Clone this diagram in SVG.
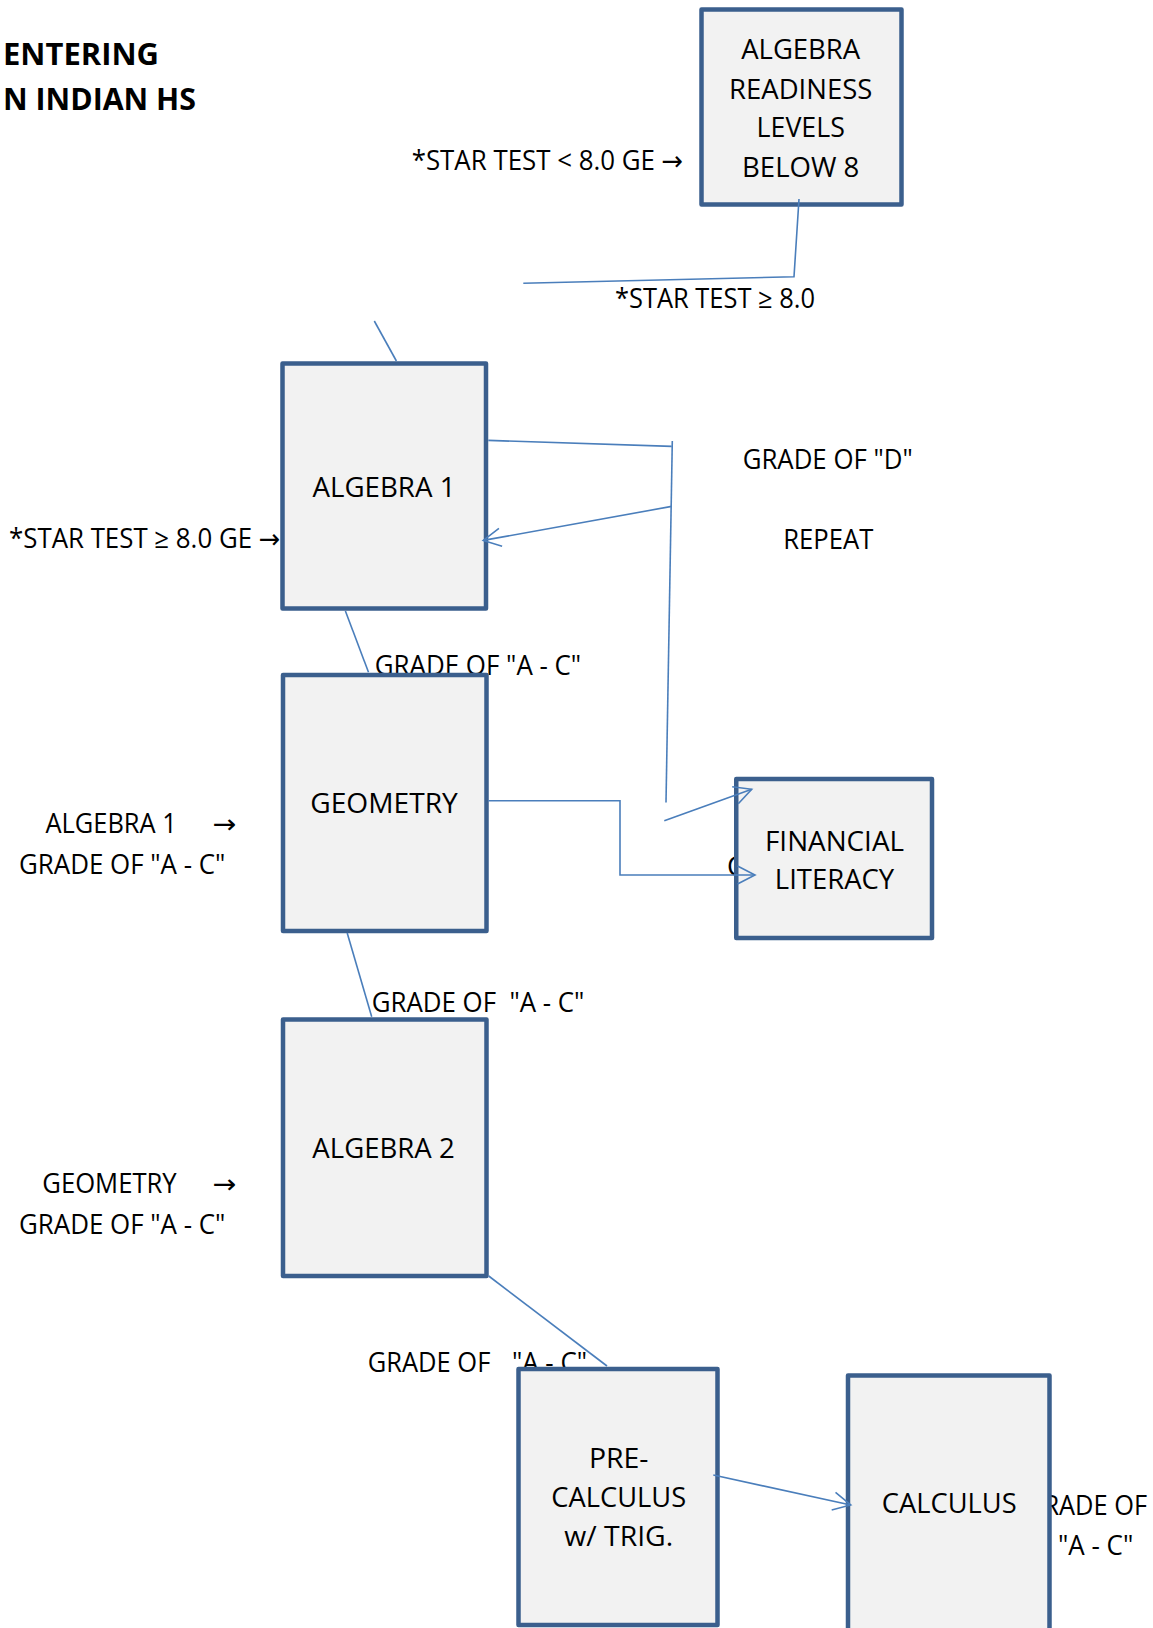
<svg xmlns="http://www.w3.org/2000/svg" width="1153" height="1628" viewBox="0 0 1153 1628">
<style>
text{font-family:"Open Sans","Noto Sans","Liberation Sans",sans-serif;font-size:27px;fill:#000;white-space:pre}
.t{font-weight:bold;font-size:30px}
.c{text-anchor:middle}
.ar{font-family:"DejaVu Sans",sans-serif;font-size:26px}
.sa{font-family:"Open Sans","DejaVu Sans",sans-serif}
.box{fill:#f2f2f2;stroke:#3b5f8d;stroke-width:4.5;stroke-linejoin:round}
.ln{fill:none;stroke:#4a7ebb;stroke-width:1.6}
</style>
<defs>
<marker id="ah" markerUnits="userSpaceOnUse" markerWidth="24" markerHeight="24" viewBox="-20 -12 24 24" refX="0" refY="0" orient="auto">
<path d="M-17.5,-9 L0,0 L-17.5,9" fill="none" stroke="#4a7ebb" stroke-width="1.6"/>
</marker>
</defs>
<rect width="1153" height="1628" fill="#fff"/>
<g id="labels">
<text class="t" x="3" y="65" textLength="156" lengthAdjust="spacingAndGlyphs">ENTERING</text>
<text class="t" x="3" y="110" textLength="193" lengthAdjust="spacingAndGlyphs">N INDIAN HS</text>
<text class="sa" x="411.7" y="170" textLength="271.6" lengthAdjust="spacingAndGlyphs">*STAR TEST &lt; 8.0 GE →</text>
<text x="615" y="308" textLength="200" lengthAdjust="spacingAndGlyphs">*STAR TEST ≥ 8.0</text>
<text class="sa" x="9" y="548" textLength="271.4" lengthAdjust="spacingAndGlyphs">*STAR TEST ≥ 8.0 GE →</text>
<text x="742.7" y="468.6" textLength="170" lengthAdjust="spacingAndGlyphs">GRADE OF "D"</text>
<text x="783.3" y="549" textLength="90" lengthAdjust="spacingAndGlyphs">REPEAT</text>
<text x="374.8" y="674.5" textLength="206.4" lengthAdjust="spacingAndGlyphs">GRADE OF "A - C"</text>
<text x="45.5" y="832.7"><tspan textLength="131.2" lengthAdjust="spacingAndGlyphs">ALGEBRA 1</tspan><tspan class="ar" x="212.7" textLength="23.8" lengthAdjust="spacingAndGlyphs">→</tspan></text>
<text x="19" y="874.3" textLength="206.4" lengthAdjust="spacingAndGlyphs">GRADE OF "A - C"</text>
<text x="727" y="876">C</text>
<text x="371.7" y="1011.7" textLength="212.7" lengthAdjust="spacingAndGlyphs">GRADE OF  "A - C"</text>
<text x="42.3" y="1192.7"><tspan textLength="134.4" lengthAdjust="spacingAndGlyphs">GEOMETRY</tspan><tspan class="ar" x="212.7" textLength="23.8" lengthAdjust="spacingAndGlyphs">→</tspan></text>
<text x="19" y="1234.3" textLength="206.4" lengthAdjust="spacingAndGlyphs">GRADE OF "A - C"</text>
<text x="367.7" y="1371.7" textLength="122.6" lengthAdjust="spacingAndGlyphs">GRADE OF</text>
<text x="512" y="1371.7" textLength="75" lengthAdjust="spacingAndGlyphs">"A - C"</text>
<text x="1025" y="1515" textLength="122" lengthAdjust="spacingAndGlyphs">GRADE OF</text>
<text x="1058" y="1555" textLength="75.3" lengthAdjust="spacingAndGlyphs">"A - C"</text>
</g>
<g id="node-readiness">
<rect class="box" x="701.5" y="9.5" width="200" height="195"/>
<text class="c" x="800.7" y="59" textLength="119" lengthAdjust="spacingAndGlyphs">ALGEBRA</text>
<text class="c" x="800.7" y="99" textLength="143.3" lengthAdjust="spacingAndGlyphs">READINESS</text>
<text class="c" x="800.7" y="137" textLength="88.3" lengthAdjust="spacingAndGlyphs">LEVELS</text>
<text class="c" x="800.7" y="177" textLength="117.3" lengthAdjust="spacingAndGlyphs">BELOW 8</text>
</g>
<g id="node-algebra1">
<rect class="box" x="282.5" y="363.5" width="203.5" height="245"/>
<text class="c" x="384" y="497" textLength="143" lengthAdjust="spacingAndGlyphs">ALGEBRA 1</text>
</g>
<g id="node-geometry">
<rect class="box" x="283" y="675" width="203.5" height="256"/>
<text class="c" x="384" y="813.3" textLength="147.5" lengthAdjust="spacingAndGlyphs">GEOMETRY</text>
</g>
<g id="node-financial">
<rect class="box" x="736.25" y="779" width="195.75" height="159"/>
<text class="c" x="834.5" y="850.7" textLength="139" lengthAdjust="spacingAndGlyphs">FINANCIAL</text>
<text class="c" x="834.5" y="889.3" textLength="119.3" lengthAdjust="spacingAndGlyphs">LITERACY</text>
</g>
<g id="node-algebra2">
<rect class="box" x="283" y="1019.5" width="203.5" height="256.5"/>
<text class="c" x="383.5" y="1158.3" textLength="142.3" lengthAdjust="spacingAndGlyphs">ALGEBRA 2</text>
</g>
<g id="node-precalc">
<rect class="box" x="518.5" y="1369" width="199" height="256"/>
<text class="c" x="618.7" y="1468.3" textLength="59.6" lengthAdjust="spacingAndGlyphs">PRE-</text>
<text class="c" x="618.7" y="1506.7" textLength="134.8" lengthAdjust="spacingAndGlyphs">CALCULUS</text>
<text class="c" x="618.7" y="1546" textLength="108.9" lengthAdjust="spacingAndGlyphs">w/ TRIG.</text>
</g>
<g id="node-calculus">
<rect class="box" x="848" y="1375.5" width="201.5" height="262"/>
<text class="c" x="949.2" y="1513.3" textLength="134.8" lengthAdjust="spacingAndGlyphs">CALCULUS</text>
</g>
<g id="connectors">
<polyline class="ln" points="799,199 794,276.7 523.3,283.3"/>
<line class="ln" x1="374.3" y1="321" x2="396.4" y2="361"/>
<line class="ln" x1="345.4" y1="611" x2="368.5" y2="672.3"/>
<line class="ln" x1="488.3" y1="440.4" x2="671.7" y2="446.4"/>
<line class="ln" x1="672.3" y1="441" x2="666" y2="802.5"/>
<line class="ln" x1="671.7" y1="506.4" x2="483.3" y2="540.4" marker-end="url(#ah)"/>
<line class="ln" x1="664.3" y1="820.7" x2="751.7" y2="789.3" marker-end="url(#ah)"/>
<polyline class="ln" points="488.3,800.7 620,800.7 620,875 755,875" marker-end="url(#ah)"/>
<line class="ln" x1="347.2" y1="933" x2="371.7" y2="1016.7"/>
<line class="ln" x1="488.7" y1="1276" x2="607" y2="1366"/>
<line class="ln" x1="713.3" y1="1475" x2="850.7" y2="1505" marker-end="url(#ah)"/>
</g>
</svg>
